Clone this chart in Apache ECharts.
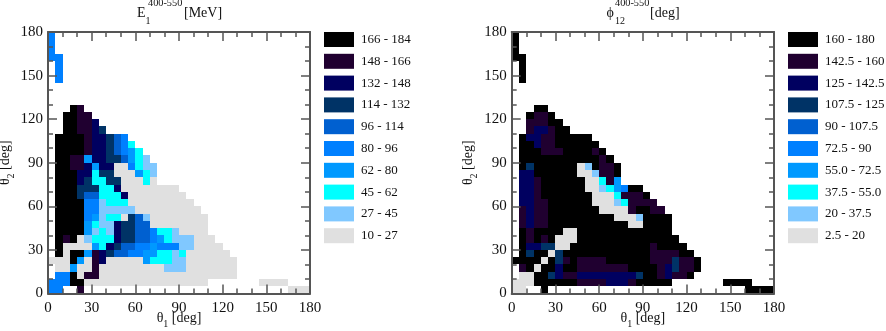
<!DOCTYPE html>
<html><head><meta charset="utf-8">
<script src="https://cdn.jsdelivr.net/npm/echarts@6/dist/echarts.min.js"></script>
<style>html,body{margin:0;padding:0;background:#fff}#c{width:886px;height:331px}</style>
</head><body><div id="c"></div>
<script>
// Bin index per cell: rows run from theta2 = 175-180 (top) to 0-5 (bottom); columns theta1 = 0-5, 5-10, ...
const e1Rows = [
"4","4","4","44",".4",".4",".4","","","",
"...98",
"..9988",
"..99887",
"..998876",
".9999877654",
".99998776542",
".999987765432",
".9988377665321",
".99887377004211",
".99977266000321",
".99976226600020",
".999666227"+"00000000",
".9996552227"+"00000000",
".999944"+"1222"+"000000000",
".999944"+"11111"+"000000000",
".99994312206" + "51" + "00000000",
".99993211766"+"55"+"00000000",
".99993121766"+"55"+"4221"+"0000",
".98901222766"+"55"+"432"+"111"+"000",
".9000032765544"+"3444"+"11"+"0000",
".90993876554433"+"2212"+"000000",
"000930870000032221100"+"00000",
".0030080000000001110000000",
".4490880000000000000000000",
"44499"+"00000000000000000"+"......."+"0000",
"44..8"+"............................"+"000"
];
const phiRows = [
"9","9","9","99",".9",".9",".9","","","",
"...99",
"..9889",
"..88899",
"..877899",
".9778899999",
".997889"+"99999",
".999888"+"999989",
".99999999999"+"89",
".96999999"+"01"+"9889",
".77999999"+"00"+"1"+"889",
".77899999900"+"283",
".77899999900"+"123499",
".778"+"9999999"+"000"+"2"+"888"+"9",
".7788"+"999999"+"000"+"12"+"8888",
".8788"+"9999999"+"0000"+"8"+"99"+"88",
".8788"+"999999999"+"0001"+"9999",
".8788"+"99999999999"+"00"+"9999",
".98"+"9999"+"00"+"9999999999999",
".98989"+"000"+"99999999999999",
".97766"+"00"+"99999999999"+"8"+"9999",
".96990"+"6"+"999999999999"+"8888"+"99",
"99990968"+"9"+"8888"+"999999"+"888"+"6"+"88"+"9",
".89099"+"7"+"99"+"8888888"+"9999"+"8"+"76"+"88"+"9",
".00"+"99"+"67"+"88"+"77777777"+"6"+"99"+"8"+"7"+"88"+"9",
"000"+"999999"+"8888"+"777"+"8"+"99999"+"......."+"9999",
"00..9"+"..........................."+"9999"
];
const e1Lower = [10,27,45,62,80,96,114,132,148,166];
const e1Upper = [27,45,62,80,96,114,132,148,166,184];
const e1Labels = ["10 - 27","27 - 45","45 - 62","62 - 80","80 - 96","96 - 114","114 - 132","132 - 148","148 - 166","166 - 184"];
const phiLower = [2.5,20,37.5,55,72.5,90,107.5,125,142.5,160];
const phiUpper = [20,37.5,55,72.5,90,107.5,125,142.5,160,180];
const phiLabels = ["2.5 - 20","20 - 37.5","37.5 - 55.0","55.0 - 72.5","72.5 - 90","90 - 107.5","107.5 - 125","125 - 142.5","142.5 - 160","160 - 180"];
const binColors = ["#e0e0e0","#80c8ff","#00ffff","#0099ff","#0080ff","#0060d0","#003366","#000060","#200030","#000000"];

function cells(rows, lower, upper){
  const out=[];
  rows.forEach((row,i)=>{
    const y0=175-5*i;
    for(let c=0;c<row.length;c++){
      if(row[c]==='.')continue;
      const b=+row[c];
      out.push([c*5,y0,c*5+5,y0+5,(lower[b]+upper[b])/2]);
    }
  });
  return out;
}
function pieces(lower,upper,labels){
  return lower.map((l,i)=>({gte:l,lt:upper[i]+(i===lower.length-1?1:0),label:labels[i],color:binColors[i]}));
}
const frame='#555555', ink='#111111', font='"Liberation Serif"';
function xAx(g,pos,labels,name){return {type:'value',gridIndex:g,position:pos,min:0,max:180,interval:30,z:10,
  axisLine:{show:true,onZero:false,lineStyle:{color:frame,width:2}},
  axisTick:{show:true,inside:true,length:9,lineStyle:{color:frame,width:1.5}},
  minorTick:{show:true,splitNumber:3,length:5,lineStyle:{color:frame,width:1.5}},
  splitLine:{show:false},minorSplitLine:{show:false},
  axisLabel:{show:labels,color:ink,fontFamily:font,fontSize:15,margin:7,hideOverlap:false,showMinLabel:true,showMaxLabel:true,alignMinLabel:'center',alignMaxLabel:'center'},
  name:name||'',nameLocation:'middle',nameGap:18,nameMoveOverlap:false,
  nameTextStyle:{color:ink,fontFamily:font,fontSize:14,rich:{a:{fontFamily:font,fontSize:14,color:ink,lineHeight:18,verticalAlign:'top'},s:{fontFamily:font,fontSize:10,color:ink,lineHeight:18,verticalAlign:'bottom'}}}};}
function yAx(g,pos,labels,name){const a=xAx(g,pos,labels,name);a.nameGap=32;
  a.axisLabel.margin=5;delete a.axisLabel.alignMinLabel;delete a.axisLabel.alignMaxLabel;
  a.axisLabel.verticalAlignMinLabel='middle';a.axisLabel.verticalAlignMaxLabel='middle';return a;}
function series(i,data){return {type:'custom',xAxisIndex:i,yAxisIndex:i,clip:true,z:2,data:data,encode:{x:[0,2],y:[1,3]},
  renderItem:(p,api)=>{
    const a=api.coord([api.value(0),api.value(3)]),b=api.coord([api.value(2),api.value(1)]);
    const x0=Math.round(a[0]),y0=Math.round(a[1]),x1=Math.round(b[0]),y1=Math.round(b[1]);
    return {type:'rect',shape:{x:x0,y:y0,width:x1-x0,height:y1-y0},style:{fill:api.visual('color')}};
  }};}
function vm(i,left,lo,up,lab){return {type:'piecewise',seriesIndex:i,dimension:4,orient:'vertical',left:left,top:27,padding:5,align:'left',itemSymbol:'rect',
  itemWidth:30,itemHeight:15,itemGap:6.8,textGap:7,hoverLink:false,selectedMode:false,
  textStyle:{color:ink,fontFamily:font,fontSize:13},pieces:pieces(lo,up,lab)};}
function t(text,left,top,size){return {text:text,left:left,top:top,padding:0,textStyle:{color:ink,fontFamily:font,fontSize:size,fontWeight:'normal'}};}
const gridBase={outerBoundsMode:'none',containLabel:false};

const option={animation:false,backgroundColor:'#fff',
  title:[t('E',137,6,14),t('1',145.5,16,10),t('400-550',148,-2,10.3),t('[MeV]',184,6,14),
         t('ϕ',606.5,6,14),t('12',615,16,10),t('400-550',615,-2,10.3),t('[deg]',650,6,14)],
  grid:[Object.assign({left:48,top:32,width:262,height:261.5},gridBase),Object.assign({left:511.7,top:32,width:262.3,height:261.5},gridBase)],
  xAxis:[xAx(0,'bottom',true,'{a|θ}{s|1}{a| [deg]}'),xAx(0,'top',false),xAx(1,'bottom',true,'{a|θ}{s|1}{a| [deg]}'),xAx(1,'top',false)],
  yAxis:[yAx(0,'left',true,'{a|θ}{s|2}{a| [deg]}'),yAx(0,'right',false),yAx(1,'left',true,'{a|θ}{s|2}{a| [deg]}'),yAx(1,'right',false)],
  visualMap:[vm(0,319,e1Lower,e1Upper,e1Labels),vm(1,783,phiLower,phiUpper,phiLabels)],
  series:[series(0,cells(e1Rows,e1Lower,e1Upper)),series(2,cells(phiRows,phiLower,phiUpper))]
};
option.series[0].xAxisIndex=0;option.series[0].yAxisIndex=0;
option.series[1].xAxisIndex=2;option.series[1].yAxisIndex=2;
option.visualMap[1].seriesIndex=1;
echarts.init(document.getElementById('c'),null,{renderer:'canvas'}).setOption(option);
</script></body></html>
